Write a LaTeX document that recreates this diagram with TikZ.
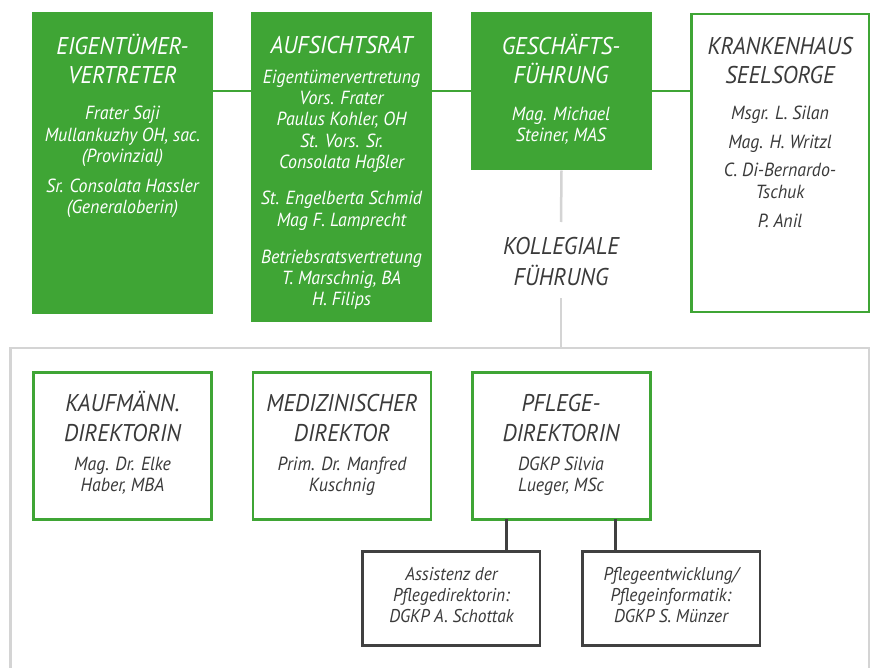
\documentclass[tikz,border=0pt]{standalone}
\usepackage{fontspec}
\setmainfont{PT Sans}[FakeStretch=0.94]
\usetikzlibrary{calc}
\definecolor{grn}{HTML}{3FA535}
\definecolor{dtext}{HTML}{3A3A3A}
\definecolor{lgrey}{HTML}{D4D4D4}
\definecolor{dgrey}{HTML}{404040}
\newcommand\stack[4]{\foreach \yy/\tx [count=\ii] in {#4}{\node[#3, name=#1-\ii] at (#2,\yy) {\tx};}}
\begin{document}
\begin{tikzpicture}[x=1pt,y=-1pt,
  gbox/.style={fill=grn, draw=none, inner sep=0, outer sep=0, anchor=north west},
  obox/.style={draw=grn, line width=2.5pt, fill=white, inner sep=0, outer sep=0, anchor=north west},
  kbox/.style={draw=dgrey, line width=2.5pt, fill=white, inner sep=0, outer sep=0, anchor=north west},
  ttl/.style={font=\fontsize{24.2}{24}\selectfont\itshape, inner sep=0, anchor=base},
  bdy/.style={font=\fontsize{19}{19}\selectfont\itshape, inner sep=0, anchor=base},
  sml/.style={font=\fontsize{18.5}{18.5}\selectfont\itshape, inner sep=0, anchor=base},
  gline/.style={draw=grn, line width=2.5pt},
  lline/.style={draw=lgrey, line width=2.5pt},
  dline/.style={draw=dgrey, line width=2.5pt}]
\useasboundingbox[fill=white] (0,0) rectangle (875,668);

% frame of the collegial management
\coordinate (frL) at (10.5,668);
\coordinate (frR) at (869,668);
\coordinate (frTL) at (10.5,348);
\coordinate (frTR) at (869,348);
\draw[lline] (frL) -- (frTL) -- (frTR) -- (frR);

% top row
\node[gbox, minimum width=181pt, minimum height=302pt] (eig) at (32,12) {};
\node[gbox, minimum width=181pt, minimum height=309.5pt] (auf) at (251,12) {};
\node[gbox, minimum width=181pt, minimum height=158.5pt] (gf) at (471,12) {};
\node[obox, minimum width=177.5pt, minimum height=297.5pt] (ks) at (691.25,14.25) {};

% connectors top row
\draw[gline] ($(eig.north east)+(0,79)$) -- ($(auf.north west)+(0,79)$);
\draw[gline] ($(auf.north east)+(0,79)$) -- ($(gf.north west)+(0,79)$);
\draw[gline] ($(gf.north east)+(0,79)$) -- ($(ks.north west)+(-1.25,76.75)$);

% collegial line
\coordinate (k1) at (561,222);
\coordinate (k2) at (561,298);
\coordinate (kf) at (561,348);
\draw[lline] (gf.south) -- (k1);
\draw[lline] (k2) -- (kf);

% second row
\node[obox, minimum width=178pt, minimum height=147pt] (kauf) at (33.25,372.25) {};
\node[obox, minimum width=178pt, minimum height=147pt] (med) at (252.75,372.25) {};
\node[obox, minimum width=178pt, minimum height=147pt] (pfl) at (472.25,372.25) {};
\node[kbox, minimum width=177.5pt, minimum height=94pt] (ass) at (362.5,551.25) {};
\node[kbox, minimum width=177.5pt, minimum height=94pt] (pent) at (582.25,551.25) {};
\draw[dline] (pfl.south -| 506.3,0) -- (ass.north -| 506.3,0);
\draw[dline] (pfl.south -| 615.3,0) -- (pent.north -| 615.3,0);

% texts
\stack{eigT}{122.5}{ttl,text=white}{54.5/{EIGENTÜMER-}, 83.3/VERTRETER}
\stack{eigB}{122.5}{bdy,text=white}{120/{Frater Saji}, 141.3/{Mullankuzhy OH, sac.}, 162.6/{(Provinzial)}, 192.3/{Sr. Consolata Hassler}, 213.6/{(Generaloberin)}}

\stack{aufT}{341.5}{ttl,text=white}{54/AUFSICHTSRAT}
\stack{aufB}{341.5}{bdy,text=white}{83.3/Eigentümervertretung, 104.6/{Vors. Frater}, 126/{Paulus Kohler, OH}, 147.3/{St. Vors. Sr.}, 168.6/{Consolata Haßler}, 205/{St. Engelberta Schmid}, 226.3/{Mag F. Lamprecht}, 263.3/Betriebsratsvertretung, 284.6/{T. Marschnig, BA}, 305.9/{H. Filips}}

\stack{gfT}{561}{ttl,text=white}{55/{GESCHÄFTS-}, 83.3/{FÜHRUNG}}
\stack{gfB}{561}{bdy,text=white}{120.5/{Mag. Michael}, 141.5/{Steiner, MAS}}

\stack{ksT}{780}{ttl,text=dtext}{54.5/KRANKENHAUS, 83.3/SEELSORGE}
\stack{ksB}{780}{bdy,text=dtext}{120/{Msgr. L. Silan}, 149/{Mag. H. Writzl}, 177/{C. Di-Bernardo-}, 198.3/{Tschuk}, 227.3/{P. Anil}}

\stack{kollT}{561}{ttl,text=dtext}{255/KOLLEGIALE, 285/{FÜHRUNG}}

\stack{kaufT}{122.5}{ttl,text=dtext}{411.7/{KAUFMÄNN.}, 441/DIREKTORIN}
\stack{kaufB}{122.5}{bdy,text=dtext}{470/{Mag. Dr. Elke}, 491.3/{Haber, MBA}}
\stack{medT}{342}{ttl,text=dtext}{411.7/MEDIZINISCHER, 441/DIREKTOR}
\stack{medB}{342}{bdy,text=dtext}{470/{Prim. Dr. Manfred}, 491.3/Kuschnig}
\stack{pflT}{561}{ttl,text=dtext}{411.7/{PFLEGE-}, 441/DIREKTORIN}
\stack{pflB}{561}{bdy,text=dtext}{470/{DGKP Silvia}, 491.3/{Lueger, MSc}}

\stack{assT}{451.5}{sml,text=dtext}{580/{Assistenz der}, 601.3/{Pflegedirektorin:}, 622.7/{DGKP A. Schottak}}
\stack{pentT}{671}{sml,text=dtext}{580/{Pflegeentwicklung/}, 601.3/{Pflegeinformatik:}, 622.7/{DGKP S. Münzer}}
\end{tikzpicture}
\end{document}
